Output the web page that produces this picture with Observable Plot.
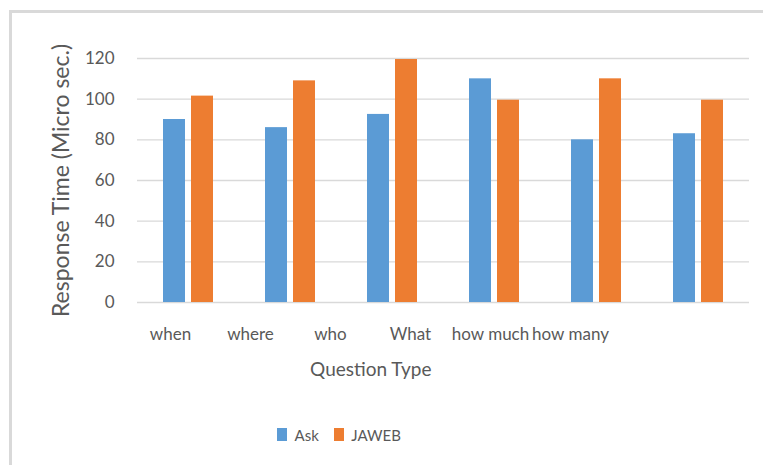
<!DOCTYPE html>
<html><head><meta charset="utf-8">
<script src="https://cdn.jsdelivr.net/npm/d3@7"></script>
<script src="https://cdn.jsdelivr.net/npm/@observablehq/plot@0.6"></script>
<style>
html,body{margin:0;padding:0;background:#fff;}
#wrap{position:relative;width:763px;height:465px;overflow:hidden;background:#fff;font-family:Lato,sans-serif;}
#frame{position:absolute;left:9px;top:10px;width:900px;height:600px;border-left:3px solid #d9d9d9;border-top:3px solid #d9d9d9;}
#main{position:absolute;left:0;top:0;}
#xlab{position:absolute;left:0;top:302px;}
#legend{position:absolute;left:277px;top:418px;}
</style></head><body>
<div id="wrap"><div id="frame"></div><div id="main"></div><div id="xlab"></div><div id="legend"></div></div>
<script>
const categories = ["when", "where", "who", "What", "how much", "how many"];
const series = ["Ask", "JAWEB"];
const askValues = [90, 86, 92.5, 110, 80, 83];
const jawebValues = [101.5, 109, 119.5, 99.5, 110, 99.5];
const yTicks = [0, 20, 40, 60, 80, 100, 120];
const colors = ["#5B9BD5", "#ED7D31"];
const textColor = "#595959";

const data = categories.flatMap((c, i) => [
  {category: c, series: series[0], value: askValues[i]},
  {category: c, series: series[1], value: jawebValues[i]}
]);

const main = Plot.plot({
  width: 763, height: 320,
  marginTop: 58, marginBottom: 18, marginLeft: 135, marginRight: 12,
  style: {fontFamily: "Lato, sans-serif", color: textColor, background: "transparent", overflow: "visible"},
  fx: {domain: categories, padding: 0, axis: null},
  x: {domain: series, paddingInner: 0.207, paddingOuter: 0.874, axis: null},
  y: {domain: [0, 120]},
  color: {domain: series, range: colors},
  marks: [
    Plot.gridY(yTicks, {stroke: "#d9d9d9", strokeOpacity: 1, strokeWidth: 1.3}),
    Plot.barY(data, {fx: "category", x: "series", y: "value", fill: "series"}),
    Plot.axisY(yTicks, {tickSize: 0, tickPadding: 23, fontSize: 17, label: "Response Time (Micro sec.)", labelAnchor: "center", labelArrow: "none", labelOffset: 85})
  ]
});
d3.select(main).selectAll('[aria-label="y-axis label"] text').attr("font-size", 23);
document.getElementById("main").appendChild(main);

const xlab = Plot.plot({
  width: 763, height: 90,
  marginTop: 0, marginBottom: 89, marginLeft: 127.5, marginRight: 150,
  style: {fontFamily: "Lato, sans-serif", color: textColor, background: "transparent", overflow: "visible"},
  x: {type: "band", domain: categories, padding: 0},
  marks: [
    Plot.axisX({tickSize: 0, tickPadding: 24, fontSize: 17, label: "Question Type", labelAnchor: "center", labelArrow: "none", labelOffset: 72})
  ]
});
d3.select(xlab).selectAll('[aria-label="x-axis label"] text').attr("font-size", 19);
document.getElementById("xlab").appendChild(xlab);

const leg = Plot.legend({
  color: {domain: series, range: colors},
  swatchWidth: 10, swatchHeight: 13,
  style: {fontFamily: "Lato, sans-serif", fontSize: "15px", color: textColor, background: "transparent"}
});
document.getElementById("legend").appendChild(leg);
</script>
</body></html>
